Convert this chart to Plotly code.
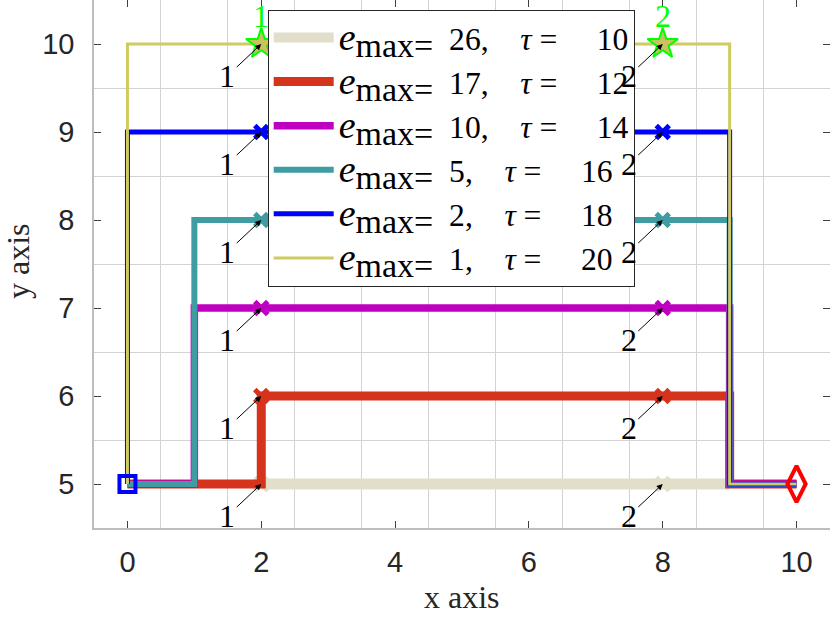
import plotly.graph_objects as go

# Series parameters (legend order = drawing order)
e_max = [26, 17, 10, 5, 2, 1]
tau = [10, 12, 14, 16, 18, 20]
levels = [5, 6, 7, 8, 9, 10]

# Step paths of each series
x_paths = [
    [2, 9],
    [0, 2, 2, 9, 9, 10],
    [0, 1, 1, 9, 9, 10],
    [0, 1, 1, 9, 9, 10],
    [0, 0, 9, 9, 10],
    [0, 0, 9, 9, 10],
]
y_paths = [
    [5, 5],
    [5, 5, 6, 6, 5, 5],
    [5, 5, 7, 7, 5, 5],
    [5, 5, 8, 8, 5, 5],
    [5, 9, 9, 5, 5],
    [5, 10, 10, 5, 5],
]

# Marked points on each level
mark_x = [2, 8]
mark_labels = ['1', '2']

# Start / end points
start_pt = (0, 5)
end_pt = (10, 5)

colors = ['#E1DFC9', '#D6331C', '#C000C0', '#3E9CA2', '#0000FF', '#CFCB60']
widths = [11, 9, 7.5, 6, 5, 3]

serif = 'Liberation Serif, Times New Roman, serif'
sans = 'Liberation Sans, Arial, sans-serif'

fig = go.Figure()

for i in range(len(e_max)):
    grp = 'g%d' % i
    label = ('<span style="font-size:38px"><i>e</i></span>'
             '<sub><span style="font-size:34px">max=</span></sub>'
             '\u2002%d,\u00a0\u00a0\u00a0\u00a0<i>τ</i>\u00a0=\u2002\u00a0\u00a0\u00a0%d'
             % (e_max[i], tau[i]))
    fig.add_trace(go.Scatter(
        x=x_paths[i], y=y_paths[i], mode='lines',
        line=dict(color=colors[i], width=widths[i]),
        name=label, legendgroup=grp, showlegend=True
    ))
    if i == len(e_max) - 1:
        # last series gets star markers
        fig.add_trace(go.Scatter(
            x=mark_x, y=[levels[i]] * 2, mode='markers',
            marker=dict(symbol='star', size=23, color='#C9C25E',
                        line=dict(color='#00FF00', width=2)),
            legendgroup=grp, showlegend=False, hoverinfo='skip'
        ))
    else:
        fig.add_trace(go.Scatter(
            x=mark_x, y=[levels[i]] * 2, mode='markers',
            marker=dict(symbol='x-thin', size=13, color=colors[i],
                        line=dict(color=colors[i], width=5)),
            legendgroup=grp, showlegend=False, hoverinfo='skip'
        ))

# Start and end markers
fig.add_trace(go.Scatter(
    x=[start_pt[0]], y=[start_pt[1]], mode='markers',
    marker=dict(symbol='square-open', size=16, color='#0000FF',
                line=dict(color='#0000FF', width=4)),
    showlegend=False, hoverinfo='skip'
))
fig.add_trace(go.Scatter(
    x=[end_pt[0]], y=[end_pt[1]], mode='markers',
    marker=dict(symbol='diamond-tall-open', size=26, color='#FF0000',
                line=dict(color='#FF0000', width=4)),
    showlegend=False, hoverinfo='skip'
))

# Arrow labels "1" and "2" on every level
for lv in levels:
    for mx, lab in zip(mark_x, mark_labels):
        fig.add_annotation(
            x=mx, y=lv, text=lab, showarrow=True,
            ax=-34, ay=32, arrowhead=2, arrowsize=1.2, arrowwidth=1,
            arrowcolor='black', font=dict(family=serif, size=32, color='black')
        )

# Green labels above the stars
for mx, lab in zip(mark_x, mark_labels):
    fig.add_annotation(
        x=mx, y=levels[-1], text=lab, showarrow=False,
        yshift=28, font=dict(family=serif, size=32, color='#00FF00')
    )

# Axis titles
fig.add_annotation(xref='paper', yref='paper', x=0.5, y=-0.131, text='x axis',
                   showarrow=False, xanchor='center', yanchor='middle',
                   font=dict(family=serif, size=32, color='#262626'))
fig.add_annotation(xref='paper', yref='paper', x=-0.103, y=0.506, text='y axis',
                   showarrow=False, xanchor='center', yanchor='middle', textangle=-90,
                   font=dict(family=serif, size=32, color='#262626'))

fig.update_layout(
    width=830, height=623,
    margin=dict(l=94, r=0, t=0, b=95, pad=0),
    plot_bgcolor='white', paper_bgcolor='white',
    showlegend=True,
    legend=dict(
        x=0.236, xanchor='left', y=0.982, yanchor='top',
        bgcolor='white', bordercolor='#262626', borderwidth=1,
        font=dict(family=serif, size=31.6, color='black'),
        tracegroupgap=0, itemwidth=60
    )
)

fig.update_xaxes(
    range=[-0.5, 10.5], tickvals=[0, 2, 4, 6, 8, 10],
    showgrid=False, zeroline=False, automargin=False,
    ticks='inside', ticklen=7, tickcolor='#404040', tickwidth=1,
    showline=True, linecolor='#BDBDBD', linewidth=1.5, mirror='ticks',
    tickfont=dict(family=sans, size=29, color='#262626'),
    ticklabelstandoff=7,
    minor=dict(tickmode='array', tickvals=[v + 0.5 for v in range(-1, 11)],
               showgrid=True, gridcolor='#D3D3D3', gridwidth=1, ticks='')
)
fig.update_yaxes(
    range=[4.5, 10.5], tickvals=[5, 6, 7, 8, 9, 10],
    showgrid=False, zeroline=False, automargin=False,
    ticks='inside', ticklen=7, tickcolor='#404040', tickwidth=1,
    showline=True, linecolor='#BDBDBD', linewidth=1.5, mirror='ticks',
    tickfont=dict(family=sans, size=29, color='#262626'),
    ticklabelstandoff=12,
    minor=dict(tickmode='array', tickvals=[v + 0.5 for v in range(4, 11)],
               showgrid=True, gridcolor='#D3D3D3', gridwidth=1, ticks='')
)

# Drop the page's default body margin so the figure fills the window
fig.write_html('out.html', config={'displayModeBar': False},
               post_script="document.body.style.margin='0px';")
